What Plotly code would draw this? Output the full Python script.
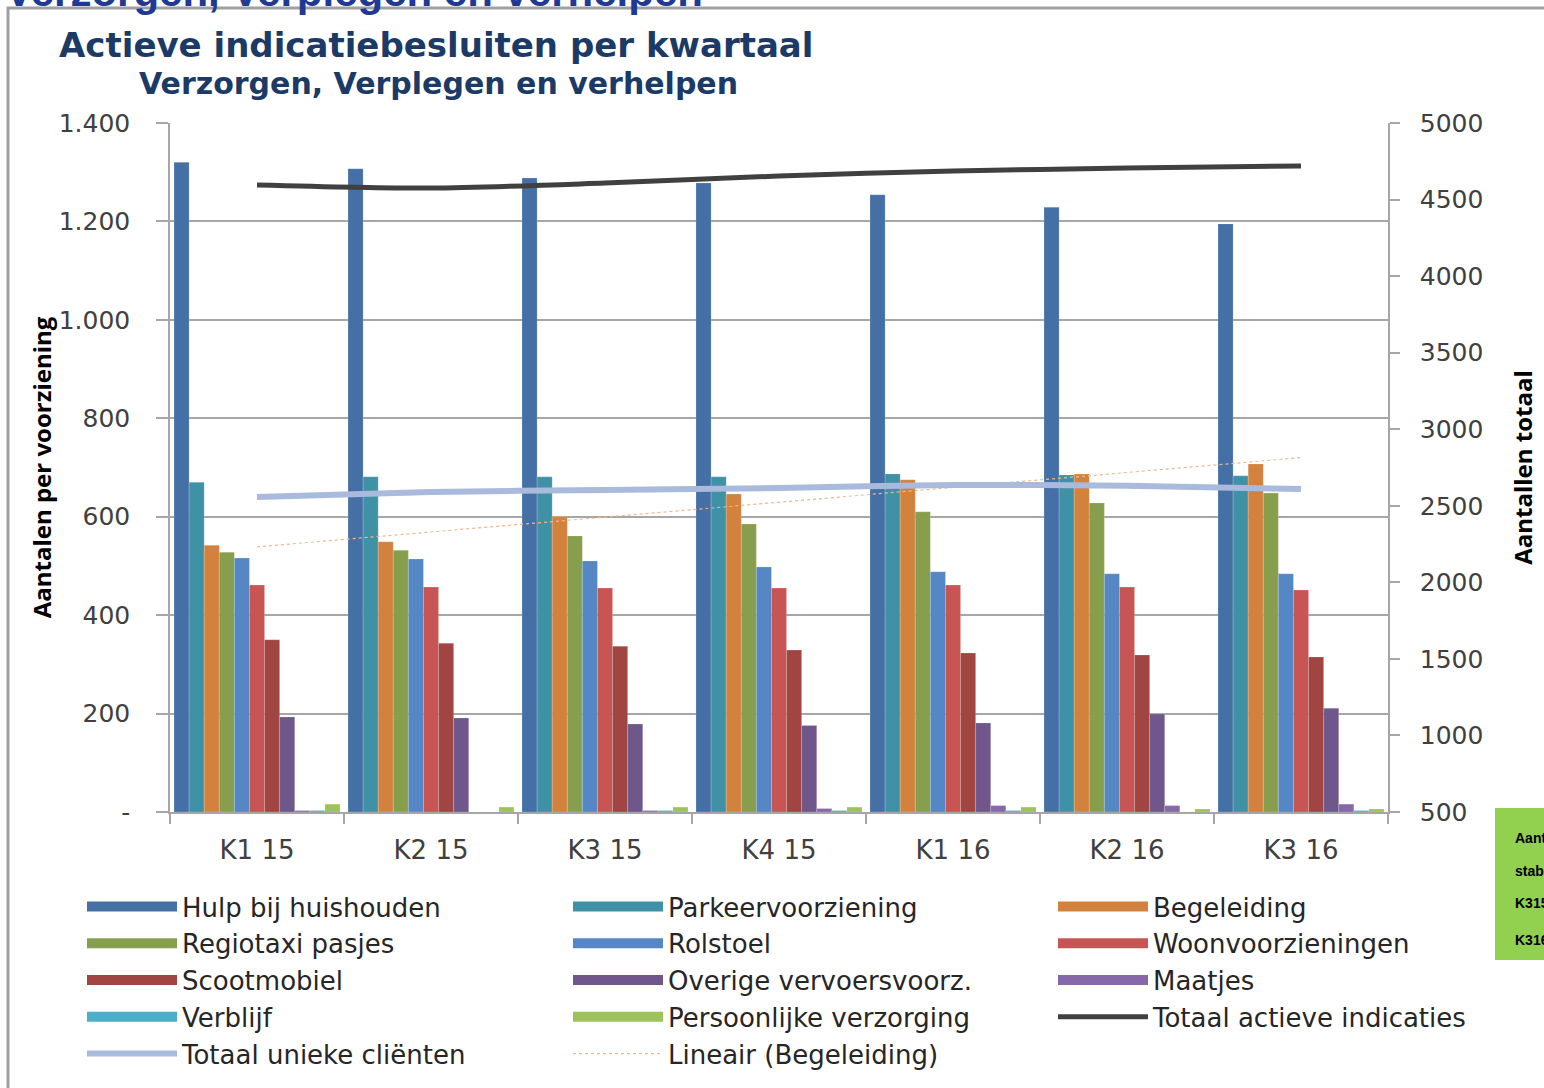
import numpy as np
import plotly.graph_objects as go

kwartalen = ["K1 15", "K2 15", "K3 15", "K4 15", "K1 16", "K2 16", "K3 16"]

hulp_bij_huishouden = [1320, 1307, 1288, 1278, 1254, 1229, 1195]
parkeervoorziening = [670, 681, 681, 681, 687, 685, 683]
begeleiding = [542, 549, 600, 646, 675, 687, 707]
regiotaxi_pasjes = [528, 532, 561, 585, 610, 628, 648]
rolstoel = [516, 514, 510, 498, 488, 484, 484]
woonvoorzieningen = [461, 457, 455, 455, 461, 457, 451]
scootmobiel = [350, 343, 337, 329, 323, 319, 315]
overige_vervoersvoorz = [193, 191, 179, 176, 181, 199, 211]
maatjes = [3, 0, 3, 7, 13, 13, 16]
verblijf = [3, 0, 3, 3, 3, 0, 3]
persoonlijke_verzorging = [16, 10, 10, 10, 10, 6, 6]

totaal_actieve_indicaties = [4595, 4575, 4608, 4654, 4686, 4706, 4719]
totaal_unieke_clienten = [2558, 2590, 2603, 2616, 2636, 2630, 2610]

left_tickvals = [0, 200, 400, 600, 800, 1000, 1200, 1400]
left_ticktext = ["-", "200", "400", "600", "800", "1.000", "1.200", "1.400"]
right_tickvals = [500, 1000, 1500, 2000, 2500, 3000, 3500, 4000, 4500, 5000]

# (name, values, colour, legend column)
bar_series = [
    ("Hulp bij huishouden", hulp_bij_huishouden, "#4470A5", "legend"),
    ("Parkeervoorziening", parkeervoorziening, "#3F91A6", "legend2"),
    ("Begeleiding", begeleiding, "#D3823D", "legend3"),
    ("Regiotaxi pasjes", regiotaxi_pasjes, "#879F4C", "legend"),
    ("Rolstoel", rolstoel, "#5487C3", "legend2"),
    ("Woonvoorzieningen", woonvoorzieningen, "#C75553", "legend3"),
    ("Scootmobiel", scootmobiel, "#A14543", "legend"),
    ("Overige vervoersvoorz.", overige_vervoersvoorz, "#6F578C", "legend2"),
    ("Maatjes", maatjes, "#8668A8", "legend3"),
    ("Verblijf", verblijf, "#4BAFC9", "legend"),
    ("Persoonlijke verzorging", persoonlijke_verzorging, "#9DC25A", "legend2"),
]

# linear trendline of Begeleiding (Excel "Lineair")
idx = np.arange(len(kwartalen))
slope, intercept = np.polyfit(idx, begeleiding, 1)
trend_begeleiding = list(slope * idx + intercept)

fig = go.Figure()

for name, vals, col, lg in bar_series:
    fig.add_trace(go.Bar(
        x=kwartalen, y=vals, name=name, legendgroup=name, showlegend=False,
        marker=dict(color=col, line=dict(color="rgba(255,255,255,0.35)", width=0.5)),
        yaxis="y",
    ))

# wide rectangular legend swatches, as in the original legend
for name, vals, col, lg in bar_series:
    fig.add_trace(go.Scatter(
        x=[None], y=[None], mode="lines", name=name, legendgroup=name,
        line=dict(color=col, width=12), showlegend=True, hoverinfo="skip",
        legend=lg,
    ))

fig.add_trace(go.Scatter(
    x=kwartalen, y=totaal_actieve_indicaties, name="Totaal actieve indicaties",
    mode="lines", line=dict(color="#404040", width=5, shape="spline", smoothing=0.8),
    yaxis="y2", legend="legend3",
))
fig.add_trace(go.Scatter(
    x=kwartalen, y=totaal_unieke_clienten, name="Totaal unieke cliënten",
    mode="lines", line=dict(color="#A9BADD", width=6, shape="spline", smoothing=0.8),
    yaxis="y2", legend="legend",
))
fig.add_trace(go.Scatter(
    x=kwartalen, y=trend_begeleiding, name="Lineair (Begeleiding)",
    mode="lines", line=dict(color="#F2B78A", width=1.2, dash="dot"),
    yaxis="y", legend="legend2",
))

PW, PH, PL, PB = 1218, 689, 170, 812


def px_x(p):
    return (p - PL) / PW


def px_y(p):
    return (PB - p) / PH


tick_font = dict(family="DejaVu Sans", size=25, color="#404040")
axis_col = "#A6A6A6"
leg_font = dict(family="DejaVu Sans", size=26, color="#262626")


def legend_cfg(xpix):
    return dict(
        orientation="v", x=px_x(xpix), y=px_y(883), xanchor="left", yanchor="top",
        font=leg_font, itemwidth=90, bgcolor="rgba(0,0,0,0)", traceorder="normal",
    )


fig.update_layout(
    width=1544, height=1088,
    margin=dict(l=170, r=156, t=123, b=276, autoexpand=False),
    paper_bgcolor="white", plot_bgcolor="white",
    barmode="group", bargap=0.046, bargroupgap=0,
    showlegend=True,
    legend=legend_cfg(82),
    legend2=legend_cfg(568),
    legend3=legend_cfg(1053),
    xaxis=dict(
        type="category", tickfont=dict(family="DejaVu Sans", size=26, color="#404040"),
        showgrid=False,
        showline=True, linecolor=axis_col, linewidth=1.5,
        ticks="outside", tickson="boundaries", ticklen=10, tickcolor=axis_col,
        tickwidth=1.5, ticklabelstandoff=14,
    ),
    yaxis=dict(
        range=[0, 1400], tickvals=left_tickvals, ticktext=left_ticktext,
        tickfont=tick_font, showgrid=True, gridcolor=axis_col, gridwidth=1.5,
        showline=True, linecolor=axis_col, linewidth=1.5,
        ticks="outside", ticklen=12, tickcolor=axis_col, tickwidth=1.5,
        ticklabelstandoff=21, zeroline=False,
        title=dict(text="<b>Aantalen per voorziening</b>",
                   font=dict(family="Open Sans", size=24, color="#000000"),
                   standoff=0),
    ),
    yaxis2=dict(
        range=[500, 5000], tickvals=right_tickvals, overlaying="y", side="right",
        tickfont=tick_font, showgrid=False,
        showline=True, linecolor=axis_col, linewidth=1.5,
        ticks="outside", ticklen=10, tickcolor=axis_col, tickwidth=1.5,
        ticklabelstandoff=15, zeroline=False,
        title=dict(text="<b>Aantallen totaal</b>",
                   font=dict(family="Open Sans", size=24, color="#000000"),
                   standoff=33),
    ),
)

title_col = "#1B3A66"
fig.add_annotation(
    text="<b>Actieve indicatiebesluiten per kwartaal</b>",
    xref="paper", yref="paper", x=px_x(57), y=px_y(45),
    xanchor="left", yanchor="middle", showarrow=False,
    font=dict(family="DejaVu Sans", size=34, color=title_col),
)
fig.add_annotation(
    text="<b>Verzorgen, Verplegen en verhelpen</b>",
    xref="paper", yref="paper", x=px_x(137), y=px_y(83),
    xanchor="left", yanchor="middle", showarrow=False,
    font=dict(family="DejaVu Sans", size=30, color=title_col),
)
# cut-off slide heading at the very top edge
fig.add_annotation(
    text="<b>Verzorgen, Verplegen en verhelpen</b>",
    xref="paper", yref="paper", x=px_x(705), y=px_y(17),
    xanchor="right", yanchor="bottom", showarrow=False,
    font=dict(family="Liberation Sans", size=42, color="#1F3A93"),
)

# outer chart frame
fig.add_shape(type="rect", xref="paper", yref="paper",
              x0=px_x(8), x1=px_x(1600), y0=px_y(1120), y1=px_y(8),
              line=dict(color="#A0A0A0", width=3), fillcolor="rgba(0,0,0,0)",
              layer="below")

# green note box at the right edge (cut off)
fig.add_shape(type="rect", xref="paper", yref="paper",
              x0=px_x(1495), x1=px_x(1700), y0=px_y(960), y1=px_y(808),
              line=dict(width=0), fillcolor="#92D050")
for txt, ypix in [("Aantal cliënten", 838), ("stabiel", 871), ("K315", 903), ("K316", 940)]:
    fig.add_annotation(
        text="<b>" + txt + "</b>", xref="paper", yref="paper",
        x=px_x(1513), y=px_y(ypix),
        xanchor="left", yanchor="middle", showarrow=False,
        font=dict(family="Liberation Sans", size=14, color="#000000"),
    )

fig.write_html("out.html", config={"displayModeBar": False},
               post_script="document.body.style.margin='0px';")
